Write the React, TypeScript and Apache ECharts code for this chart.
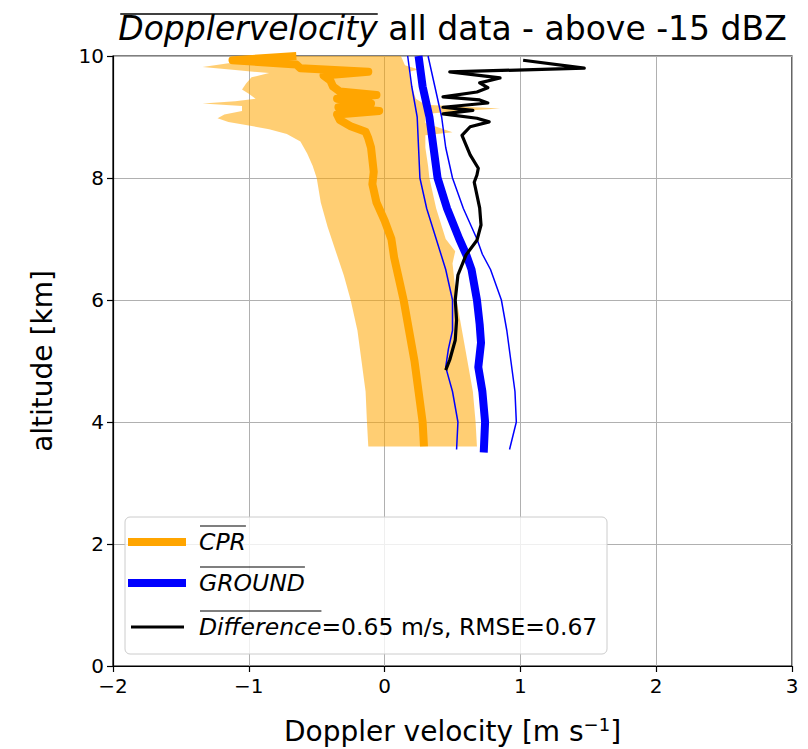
import React, { useEffect, useRef } from 'react';
import * as echarts from 'echarts';

// ---------- data (velocity [m/s], altitude [km]) ----------
const X_TICKS = [-2, -1, 0, 1, 2, 3];
const Y_TICKS = [0, 2, 4, 6, 8, 10];

const CPR_MEAN: [number, number][] = [
  [-0.65, 10.0], [-1.12, 9.93], [-0.65, 9.86], [-0.62, 9.8], [-0.12, 9.74], [-0.45, 9.68],
  [-0.4, 9.6], [-0.38, 9.5], [-0.33, 9.42], [-0.06, 9.36], [-0.35, 9.3], [-0.1, 9.22],
  [-0.34, 9.16], [-0.04, 9.1], [-0.35, 9.04], [-0.33, 8.95], [-0.25, 8.85], [-0.14, 8.76],
  [-0.12, 8.65], [-0.1, 8.5], [-0.09, 8.3], [-0.08, 8.1], [-0.09, 7.9], [-0.06, 7.6],
  [0.0, 7.3], [0.05, 7.0], [0.07, 6.7], [0.1, 6.4], [0.14, 6.0], [0.18, 5.5], [0.22, 5.0],
  [0.25, 4.5], [0.28, 4.0], [0.29, 3.6],
];

const CPR_LOW: [number, number][] = [
  [-0.68, 10.0], [-0.75, 9.93], [-1.15, 9.88], [-1.34, 9.82], [-1.1, 9.77], [-0.85, 9.72],
  [-0.98, 9.65], [-1.02, 9.55], [-1.05, 9.45], [-1.0, 9.38], [-0.95, 9.3], [-1.1, 9.26],
  [-1.34, 9.22], [-1.05, 9.18], [-1.05, 9.1], [-1.18, 9.04], [-1.23, 8.98], [-1.15, 8.92],
  [-1.0, 8.86], [-0.85, 8.8], [-0.72, 8.72], [-0.62, 8.6], [-0.57, 8.4], [-0.53, 8.2],
  [-0.5, 8.0], [-0.47, 7.6], [-0.42, 7.2], [-0.36, 6.8], [-0.3, 6.4], [-0.25, 6.0],
  [-0.2, 5.5], [-0.17, 5.0], [-0.14, 4.5], [-0.13, 4.0], [-0.12, 3.6],
];

const CPR_HIGH: [number, number][] = [
  [0.12, 10.0], [0.15, 9.85], [0.25, 9.78], [0.18, 9.74], [0.2, 9.5], [0.23, 9.3],
  [0.3, 9.2], [0.85, 9.14], [0.55, 9.1], [0.3, 9.05], [0.3, 8.9], [0.5, 8.75], [0.3, 8.7],
  [0.3, 8.5], [0.32, 8.2], [0.33, 8.0], [0.38, 7.5], [0.45, 7.0], [0.52, 6.8], [0.5, 6.6],
  [0.53, 6.0], [0.57, 5.5], [0.61, 5.0], [0.65, 4.5], [0.67, 4.0], [0.68, 3.6],
];

const GROUND_MEAN: [number, number][] = [
  [0.25, 10.0], [0.28, 9.5], [0.33, 9.0], [0.36, 8.5], [0.39, 8.0], [0.46, 7.5],
  [0.55, 7.0], [0.6, 6.75], [0.64, 6.5], [0.68, 6.0], [0.7, 5.6], [0.71, 5.3],
  [0.69, 4.9], [0.72, 4.5], [0.74, 4.0], [0.73, 3.5],
];

const GROUND_LOW: [number, number][] = [
  [0.17, 10.0], [0.2, 9.5], [0.24, 9.0], [0.25, 8.5], [0.26, 8.0], [0.31, 7.5],
  [0.38, 7.0], [0.45, 6.5], [0.5, 6.0], [0.5, 5.5], [0.47, 5.2], [0.45, 4.9],
  [0.5, 4.5], [0.54, 4.0], [0.53, 3.55],
];

const GROUND_HIGH: [number, number][] = [
  [0.32, 10.0], [0.37, 9.5], [0.42, 9.0], [0.45, 8.5], [0.5, 8.0], [0.58, 7.5],
  [0.68, 7.0], [0.72, 6.75], [0.78, 6.5], [0.86, 6.0], [0.9, 5.5], [0.93, 5.0],
  [0.96, 4.5], [0.97, 4.0], [0.92, 3.55],
];

const DIFFERENCE: [number, number][] = [
  [1.02, 9.93], [1.47, 9.8], [0.48, 9.74], [0.85, 9.64], [0.7, 9.56], [0.76, 9.48],
  [0.68, 9.41], [0.43, 9.33], [0.7, 9.28], [0.76, 9.23], [0.43, 9.16], [0.65, 9.11],
  [0.43, 9.05], [0.68, 8.98], [0.77, 8.92], [0.63, 8.84], [0.57, 8.7], [0.6, 8.54],
  [0.63, 8.38], [0.69, 8.16], [0.68, 8.05], [0.66, 7.93], [0.7, 7.51], [0.71, 7.23],
  [0.68, 6.98], [0.6, 6.74], [0.54, 6.41], [0.52, 6.0], [0.53, 5.67], [0.52, 5.34],
  [0.48, 5.02], [0.45, 4.85],
];

const TITLE_ITALIC = 'Dopplervelocity';
const TITLE_REST = ' all data - above -15 dBZ';
const LEGEND_CPR = 'CPR';
const LEGEND_GROUND = 'GROUND';
const LEGEND_DIFF = 'Difference';
const LEGEND_DIFF_REST = '=0.65 m/s, RMSE=0.67';

// ---------- layout ----------
const W = 808;
const H = 749;
const FONT = 'DejaVu Sans';
const GRID = { left: 113, right: 16, top: 56, bottom: 83 };

function measure(text: string, size: number, italic: boolean): number {
  const c = document.createElement('canvas');
  const ctx = c.getContext('2d');
  if (!ctx) return text.length * size * 0.6;
  ctx.font = `${italic ? 'italic ' : ''}normal ${size}px "${FONT}"`;
  return ctx.measureText(text).width;
}

const fmtMinus = (v: number) => (v < 0 ? '\u2212' + Math.abs(v) : String(v));

export default function App() {
  const ref = useRef<HTMLDivElement>(null);

  useEffect(() => {
    if (!ref.current) return;
    const chart = echarts.init(ref.current, null, { renderer: 'svg' });

    const titleSize = 33;
    const wI = measure(TITLE_ITALIC, titleSize, true);
    const wN = measure(TITLE_REST, titleSize, false);
    const plotCenter = GRID.left + (W - GRID.left - GRID.right) / 2;
    const titleLeft = plotCenter - (wI + wN) / 2;

    const legSize = 23.5;
    const legX = 199;
    const wCPR = measure(LEGEND_CPR, legSize, true);
    const wGR = measure(LEGEND_GROUND, legSize, true);
    const wDF = measure(LEGEND_DIFF, legSize, true);

    const lineSeries = (data: [number, number][], color: string, width: number, z: number) => ({
      type: 'line',
      data,
      symbol: 'none',
      showSymbol: false,
      clip: true,
      z,
      lineStyle: { color, width, cap: 'butt', join: 'round' },
      silent: true,
    });

    const option: any = {
      animation: false,
      backgroundColor: '#fff',
      title: {
        text: `{i|${TITLE_ITALIC}}{n|${TITLE_REST}}`,
        left: titleLeft,
        top: 12,
        padding: 0,
        textStyle: {
          fontWeight: 'normal',
          rich: {
            i: { fontFamily: FONT, fontSize: titleSize, fontStyle: 'italic', fontWeight: 'normal', color: '#000' },
            n: { fontFamily: FONT, fontSize: titleSize, fontWeight: 'normal', color: '#000' },
          },
        },
      },
      grid: {
        left: GRID.left,
        right: GRID.right,
        top: GRID.top,
        bottom: GRID.bottom,
        show: true,
        borderColor: '#000',
        borderWidth: 1.2,
        backgroundColor: 'transparent',
        containLabel: false,
        outerBoundsMode: 'none',
      },
      xAxis: {
        type: 'value',
        min: X_TICKS[0],
        max: X_TICKS[X_TICKS.length - 1],
        interval: 1,
        name: 'Doppler velocity [m s{s|\u22121}]',
        nameLocation: 'middle',
        nameGap: 49,
        nameTextStyle: {
          fontFamily: FONT,
          fontSize: 28,
          color: '#000',
          rich: {
            s: { fontFamily: FONT, fontSize: 18, color: '#000', verticalAlign: 'top', padding: [0, 0, 14, 0] },
          },
        },
        axisLine: { show: true, onZero: false, lineStyle: { color: '#000', width: 1.2 } },
        axisTick: { show: true, inside: false, length: 6, lineStyle: { color: '#000', width: 1.2 } },
        axisLabel: { fontFamily: FONT, fontSize: 20, color: '#000', margin: 10, formatter: fmtMinus },
        splitLine: { show: true, lineStyle: { color: '#b0b0b0', width: 1 } },
      },
      yAxis: {
        type: 'value',
        min: Y_TICKS[0],
        max: Y_TICKS[Y_TICKS.length - 1],
        interval: 2,
        name: 'altitude [km]',
        nameLocation: 'middle',
        nameGap: 57,
        nameTextStyle: { fontFamily: FONT, fontSize: 28, color: '#000' },
        axisLine: { show: true, onZero: false, lineStyle: { color: '#000', width: 1.2 } },
        axisTick: { show: true, inside: false, length: 6, lineStyle: { color: '#000', width: 1.2 } },
        axisLabel: { fontFamily: FONT, fontSize: 20, color: '#000', margin: 9, formatter: fmtMinus },
        splitLine: { show: true, lineStyle: { color: '#b0b0b0', width: 1 } },
      },
      series: [
        {
          type: 'custom',
          coordinateSystem: 'cartesian2d',
          data: [[0, 5]],
          clip: true,
          z: 1,
          silent: true,
          renderItem: (_params: any, api: any) => {
            const pts: number[][] = [];
            for (const p of CPR_LOW) pts.push(api.coord(p));
            for (let i = CPR_HIGH.length - 1; i >= 0; i--) pts.push(api.coord(CPR_HIGH[i]));
            return {
              type: 'polygon',
              shape: { points: pts },
              style: { fill: 'rgba(255,165,0,0.55)', stroke: 'none' },
            };
          },
        },
        lineSeries(CPR_MEAN, '#ffa500', 8, 2),
        lineSeries(GROUND_LOW, '#0000ff', 1.5, 3),
        lineSeries(GROUND_HIGH, '#0000ff', 1.5, 3),
        lineSeries(GROUND_MEAN, '#0000ff', 8, 4),
        lineSeries(DIFFERENCE, '#000000', 3.2, 5),
      ],
      graphic: [
        // title overline
        {
          type: 'line',
          shape: { x1: titleLeft + 2, y1: 14, x2: titleLeft + wI, y2: 14 },
          style: { stroke: '#000', lineWidth: 1.5 },
          z: 100,
        },
        // legend frame
        {
          type: 'rect',
          shape: { x: 125, y: 517, width: 482, height: 137, r: 5 },
          style: { fill: 'rgba(255,255,255,0.8)', stroke: '#cccccc', lineWidth: 1 },
          z: 100,
        },
        { type: 'line', shape: { x1: 128, y1: 542, x2: 186, y2: 542 }, style: { stroke: '#ffa500', lineWidth: 8 }, z: 101 },
        { type: 'line', shape: { x1: 128, y1: 583, x2: 186, y2: 583 }, style: { stroke: '#0000ff', lineWidth: 8 }, z: 101 },
        { type: 'line', shape: { x1: 131, y1: 627, x2: 184, y2: 627 }, style: { stroke: '#000000', lineWidth: 3 }, z: 101 },
        {
          type: 'text', x: legX, y: 542, z: 101,
          style: { text: LEGEND_CPR, fontFamily: FONT, fontSize: legSize, fontStyle: 'italic', fill: '#000', verticalAlign: 'middle', align: 'left' },
        },
        { type: 'line', shape: { x1: legX + 1, y1: 526, x2: legX + wCPR, y2: 526 }, style: { stroke: '#000', lineWidth: 1.2 }, z: 101 },
        {
          type: 'text', x: legX, y: 583, z: 101,
          style: { text: LEGEND_GROUND, fontFamily: FONT, fontSize: legSize, fontStyle: 'italic', fill: '#000', verticalAlign: 'middle', align: 'left' },
        },
        { type: 'line', shape: { x1: legX + 1, y1: 567, x2: legX + wGR, y2: 567 }, style: { stroke: '#000', lineWidth: 1.2 }, z: 101 },
        {
          type: 'text', x: legX, y: 627, z: 101,
          style: { text: LEGEND_DIFF, fontFamily: FONT, fontSize: legSize, fontStyle: 'italic', fill: '#000', verticalAlign: 'middle', align: 'left' },
        },
        {
          type: 'text', x: legX + wDF, y: 627, z: 101,
          style: { text: LEGEND_DIFF_REST, fontFamily: FONT, fontSize: legSize, fill: '#000', verticalAlign: 'middle', align: 'left' },
        },
        { type: 'line', shape: { x1: legX + 1, y1: 611, x2: legX + wDF, y2: 611 }, style: { stroke: '#000', lineWidth: 1.2 }, z: 101 },
      ],
    };

    chart.setOption(option);
    return () => chart.dispose();
  }, []);

  return (
    <div
      ref={ref}
      style={{ position: 'fixed', left: 0, top: 0, width: W, height: H, background: '#fff' }}
    />
  );
}
